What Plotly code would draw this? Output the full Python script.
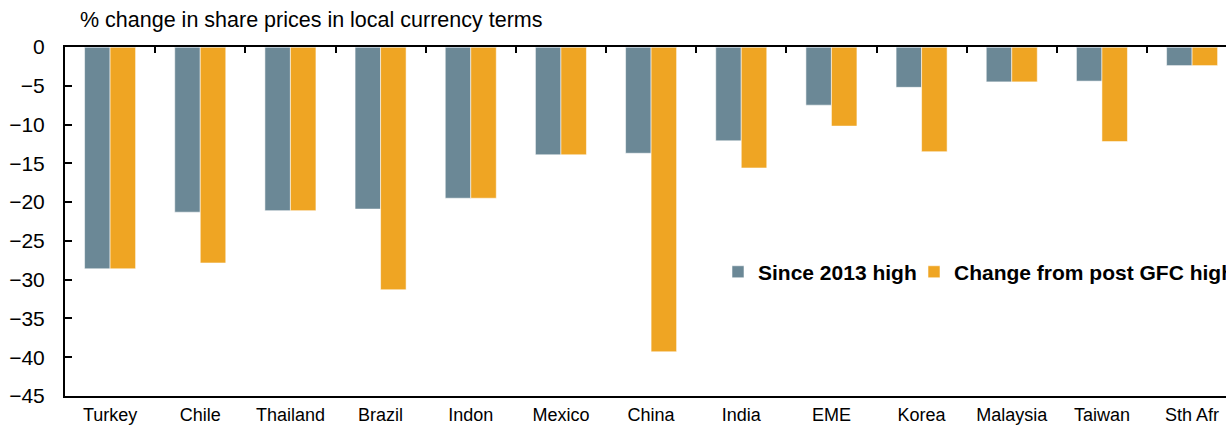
import plotly.graph_objects as go

categories = ["Turkey", "Chile", "Thailand", "Brazil", "Indon", "Mexico", "China",
              "India", "EME", "Korea", "Malaysia", "Taiwan", "Sth Afr"]
since_2013_high = [-28.6, -21.3, -21.1, -20.9, -19.5, -13.9, -13.7, -12.1, -7.5, -5.2, -4.5, -4.4, -2.4]
post_gfc_high = [-28.6, -27.85, -21.1, -31.3, -19.5, -13.9, -39.3, -15.6, -10.2, -13.5, -4.5, -12.2, -2.4]
y_ticks = [0, -5, -10, -15, -20, -25, -30, -35, -40, -45]

FONT = "Liberation Sans"
GRAY = "#6B8896"
ORANGE = "#EFA523"

fig = go.Figure()
fig.add_trace(go.Bar(x=categories, y=since_2013_high, name="Since 2013 high", legend="legend",
                     marker=dict(color=GRAY, line=dict(color="rgba(255,255,255,0.55)", width=1))))
fig.add_trace(go.Bar(x=categories, y=post_gfc_high, name="Change from post GFC high", legend="legend2",
                     marker=dict(color=ORANGE, line=dict(color="rgba(255,255,255,0.55)", width=1))))
# invisible trace to carry the top category axis (ticks between categories)
fig.add_trace(go.Bar(x=categories, y=[0] * len(categories), xaxis="x2", showlegend=False,
                     hoverinfo="skip", marker=dict(color="rgba(0,0,0,0)")))

legend_style = dict(orientation="h", xanchor="left", y=0.355, yanchor="middle",
                    font=dict(family=FONT, size=21, color="#000000", weight="bold"),
                    bgcolor="rgba(0,0,0,0)", itemwidth=30)

fig.update_layout(
    width=1226, height=426,
    margin=dict(l=65, r=0, t=47, b=30, autoexpand=False),
    paper_bgcolor="white", plot_bgcolor="white",
    barmode="group", bargap=0.434, bargroupgap=0,
    font=dict(family=FONT, color="#000000", size=18),
    title=dict(text="% change in share prices in local currency terms",
               x=80 / 1226, xanchor="left", xref="container",
               y=1 - 19 / 426, yanchor="middle", yref="container",
               font=dict(family=FONT, size=21.5, color="#000000")),
    showlegend=True,
    legend=dict(x=(718 - 65) / 1161, **legend_style),
    legend2=dict(x=(914 - 65) / 1161, **legend_style),
    xaxis=dict(type="category", categoryorder="array", categoryarray=categories,
               range=[-0.5, 12.376], showline=True, linecolor="#000000", linewidth=1.5,
               ticks="", showgrid=False, zeroline=False,
               tickfont=dict(family=FONT, size=18, color="#000000"), ticklabelstandoff=2),
    xaxis2=dict(type="category", categoryorder="array", categoryarray=categories,
                overlaying="x", side="top", anchor="y", matches="x",
                range=[-0.5, 12.376], showline=True, linecolor="#000000", linewidth=2,
                ticks="inside", tickson="boundaries", ticklen=6, tickwidth=2, tickcolor="#000000",
                showticklabels=False, showgrid=False, zeroline=False),
    yaxis=dict(range=[-45, 0], tickvals=y_ticks, showline=True, linecolor="#000000", linewidth=2,
               ticks="inside", ticklen=7, tickwidth=2, tickcolor="#000000",
               showgrid=False, zeroline=False,
               tickfont=dict(family=FONT, size=21, color="#000000"), ticklabelstandoff=14),
)

fig.write_html("out.html", config={"displayModeBar": False},
               post_script="document.body.style.margin='0';document.body.style.overflow='hidden';")
